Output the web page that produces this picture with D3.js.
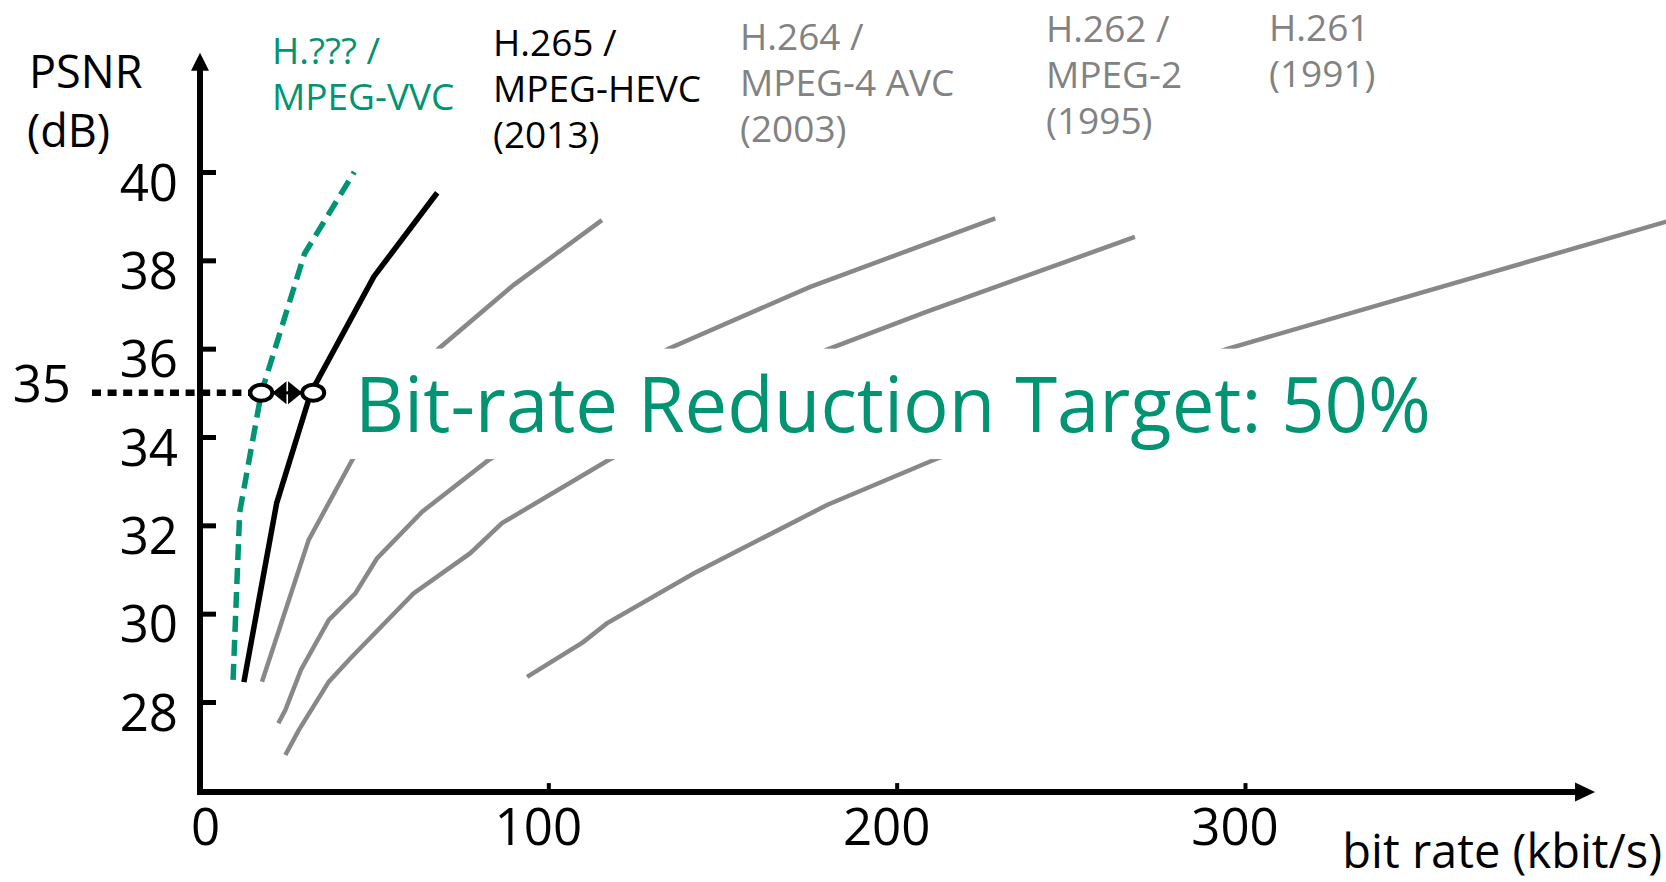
<!DOCTYPE html>
<html>
<head>
<meta charset="utf-8">
<script src="https://cdnjs.cloudflare.com/ajax/libs/d3/7.8.5/d3.min.js"></script>
<style>
  html, body { margin: 0; padding: 0; background: #fff; }
  svg { display: block; font-family: "Open Sans", "Noto Sans", sans-serif; }
</style>
</head>
<body>
<script>
var width = 1666, height = 882;

/*
* Data: bit rate (kbit/s) and PSNR (dB) per codec
*/
var vvcRate  = [9.5, 11.4, 17.6, 30.0, 44.3];
var vvcPsnr  = [28.5, 32.3, 35.0, 38.15, 40.0];
var hevcRate = [12.6, 22.0, 31.8, 49.9, 68.1];
var hevcPsnr = [28.45, 32.5, 35.0, 37.63, 39.53];
var avcRate  = [17.8, 31.2, 43.7, 68.5, 90.0, 115.4];
var avcPsnr  = [28.46, 31.67, 33.48, 36.0, 37.44, 38.91];
var g2Rate   = [22.5, 24.5, 29.0, 37.0, 44.6, 50.8, 63.8, 82.9, 134.5, 175.2, 228.3];
var g2Psnr   = [27.52, 27.82, 28.73, 29.86, 30.46, 31.25, 32.31, 33.48, 36.0, 37.4, 38.95];
var g3Rate   = [24.5, 28.4, 37.0, 43.2, 61.3, 77.6, 86.7, 117.3, 180.0, 208.7, 268.4];
var g3Psnr   = [26.8, 27.37, 28.46, 28.99, 30.46, 31.37, 32.05, 33.48, 35.98, 36.84, 38.53];
var h261Rate = [93.9, 109.9, 116.8, 141.7, 180.0, 210.6, 294.7, 422.0];
var h261Psnr = [28.57, 29.35, 29.78, 30.91, 32.46, 33.48, 35.99, 38.9];

var yTicks = [28, 30, 32, 34, 36, 38, 40];
var xTicks = [0, 100, 200, 300];

var targetPsnr = 35;
var vvcAtTarget = 17.6;
var hevcAtTarget = 32.5;

var vvcLabel  = ["H.??? /", "MPEG-VVC"];
var hevcLabel = ["H.265 /", "MPEG-HEVC", "(2013)"];
var avcLabel  = ["H.264 /", "MPEG-4 AVC", "(2003)"];
var h262Label = ["H.262 /", "MPEG-2", "(1995)"];
var h261Label = ["H.261", "(1991)"];

var green = "#009473";
var gray = "#888888";
var labelGray = "#828282";
var font = '"Open Sans", "Noto Sans", sans-serif';

var svg = d3.select("body").append("svg")
  .attr("width", width)
  .attr("height", height)

svg.append("rect").attr("width", width).attr("height", height).attr("fill", "#fff")

// scales
var x = d3.scaleLinear().domain([0, 300]).range([200, 1245]);
var y = d3.scaleLinear().domain([28, 40]).range([702, 172]);
var yBottom = 25.96, yTop = 42.7; // extent of the drawn y axis
var xEnd = 400.5;                // extent of the drawn x axis

function pts(r, p) {
  return r.map(function (v, i) { return [v, p[i]]; });
}

var line = d3.line()
  .x(function (d) { return x(d[0]); })
  .y(function (d) { return y(d[1]); });

/*
* Axes
*/
var yAxis = svg.append("g")
  .attr("transform", "translate(" + x(0) + ",0)")
  .call(d3.axisLeft(y).tickValues(yTicks).tickSize(-16).tickPadding(22).tickSizeOuter(0))
  .attr("font-family", font)
yAxis.select(".domain").remove();
yAxis.selectAll(".tick line").attr("stroke", "#000").attr("stroke-width", 5);
yAxis.selectAll(".tick text")
  .attr("dy", 28)
  .style("font-size", "51px")
  .attr("fill", "#000");

var xAxis = svg.append("g")
  .attr("transform", "translate(0," + y(yBottom) + ")")
  .call(d3.axisBottom(x).tickValues(xTicks).tickSize(-9).tickSizeOuter(0))
  .attr("font-family", font)
xAxis.select(".domain").remove();
xAxis.selectAll(".tick line").attr("stroke", "#000").attr("stroke-width", 4);
xAxis.selectAll(".tick text")
  .attr("y", 0)
  .attr("dy", 53)
  .attr("dx", function (d) { return d === 0 ? 5 : -10.5; })
  .style("font-size", "51px")
  .attr("fill", "#000");

// axis lines with arrow heads
svg.append("line")
  .attr("x1", x(0)).attr("x2", x(0))
  .attr("y1", y(yBottom) + 3).attr("y2", y(yTop) + 16)
  .attr("stroke", "#000").attr("stroke-width", 6);
svg.append("path")
  .attr("d", "M" + x(0) + "," + y(yTop) + "l-9,18h18z")
  .attr("fill", "#000");

svg.append("line")
  .attr("x1", x(0) - 3).attr("x2", x(xEnd) - 18)
  .attr("y1", y(yBottom)).attr("y2", y(yBottom))
  .attr("stroke", "#000").attr("stroke-width", 6);
svg.append("path")
  .attr("d", "M" + x(xEnd) + "," + y(yBottom) + "l-20,-9.5v19z")
  .attr("fill", "#000");

// axis titles
svg.append("text").attr("x", 29).attr("y", 88).style("font-size", "45px").text("PSNR");
svg.append("text").attr("x", 27).attr("y", 147).style("font-size", "45px").text("(dB)");
svg.append("text").attr("x", 1662).attr("y", 868)
  .attr("text-anchor", "end")
  .style("font-size", "47px").text("bit rate (kbit/s)");

/*
* Curves
*/
[[avcRate, avcPsnr], [g2Rate, g2Psnr], [g3Rate, g3Psnr], [h261Rate, h261Psnr]].forEach(function (s) {
  svg.append("path")
    .attr("d", line(pts(s[0], s[1])))
    .attr("fill", "none")
    .attr("stroke", gray)
    .attr("stroke-width", 4.5);
});

svg.append("path")
  .attr("d", line(pts(hevcRate, hevcPsnr)))
  .attr("fill", "none")
  .attr("stroke", "#000")
  .attr("stroke-width", 5.5);

svg.append("path")
  .attr("d", line(pts(vvcRate, vvcPsnr)))
  .attr("fill", "none")
  .attr("stroke", green)
  .attr("stroke-width", 5.5)
  .attr("stroke-dasharray", "16,8");

// white band behind the big caption hides the middle of the grey curves
svg.append("rect")
  .attr("x", x(40.5))
  .attr("y", y(36))
  .attr("width", x(360) - x(40.5))
  .attr("height", y(33.5) - y(36))
  .attr("fill", "#fff");

var caption = svg.append("text")
  .attr("x", 355)
  .attr("y", 431.5)
  .attr("fill", green)
  .style("font-size", "72px")
  .text("Bit-rate Reduction Target: 50%");
// fit the caption to the width it has in the picture
var capLen = caption.node().getComputedTextLength();
caption.style("font-size", (72 * 1076 / capLen) + "px");

/*
* 35 dB marker: dotted guide, circles and double arrow
*/
var ty = y(targetPsnr);
var xL = x(vvcAtTarget), xR = x(hevcAtTarget);
var rx = 11, ry = 8;

svg.append("text")
  .attr("x", 71).attr("y", ty + 9.5)
  .attr("text-anchor", "end")
  .style("font-size", "51px")
  .text(targetPsnr);

svg.append("line")
  .attr("x1", x(0) - 108).attr("x2", xL - rx)
  .attr("y1", ty).attr("y2", ty)
  .attr("stroke", "#000")
  .attr("stroke-width", 6.5)
  .attr("stroke-dasharray", "9,6.6");

var mid = (xL + xR) / 2;
svg.append("line")
  .attr("x1", xL + rx).attr("x2", xR - rx)
  .attr("y1", ty).attr("y2", ty)
  .attr("stroke", "#000").attr("stroke-width", 3);
svg.append("path")
  .attr("d", "M" + (xL + rx) + "," + ty + "L" + (mid - 0.8) + "," + (ty - 11.5) + "V" + (ty + 11.5) + "Z")
  .attr("fill", "#000");
svg.append("path")
  .attr("d", "M" + (xR - rx) + "," + ty + "L" + (mid + 0.8) + "," + (ty - 11.5) + "V" + (ty + 11.5) + "Z")
  .attr("fill", "#000");

[xL, xR].forEach(function (cx) {
  svg.append("ellipse")
    .attr("cx", cx).attr("cy", ty)
    .attr("rx", rx).attr("ry", ry)
    .attr("fill", "#fff")
    .attr("stroke", "#000")
    .attr("stroke-width", 4);
});

/*
* Codec labels
*/
function addLabel(lines, lx, ly, color) {
  var t = svg.append("text")
    .attr("fill", color)
    .style("font-size", "37px");
  lines.forEach(function (s, i) {
    t.append("tspan").attr("x", lx).attr("y", ly + i * 46).text(s);
  });
}

addLabel(vvcLabel, 272, 63.5, green);
addLabel(hevcLabel, 493, 56, "#000");
addLabel(avcLabel, 740, 49.5, labelGray);
addLabel(h262Label, 1046, 42, labelGray);
addLabel(h261Label, 1269, 40.5, labelGray);
</script>
</body>
</html>
